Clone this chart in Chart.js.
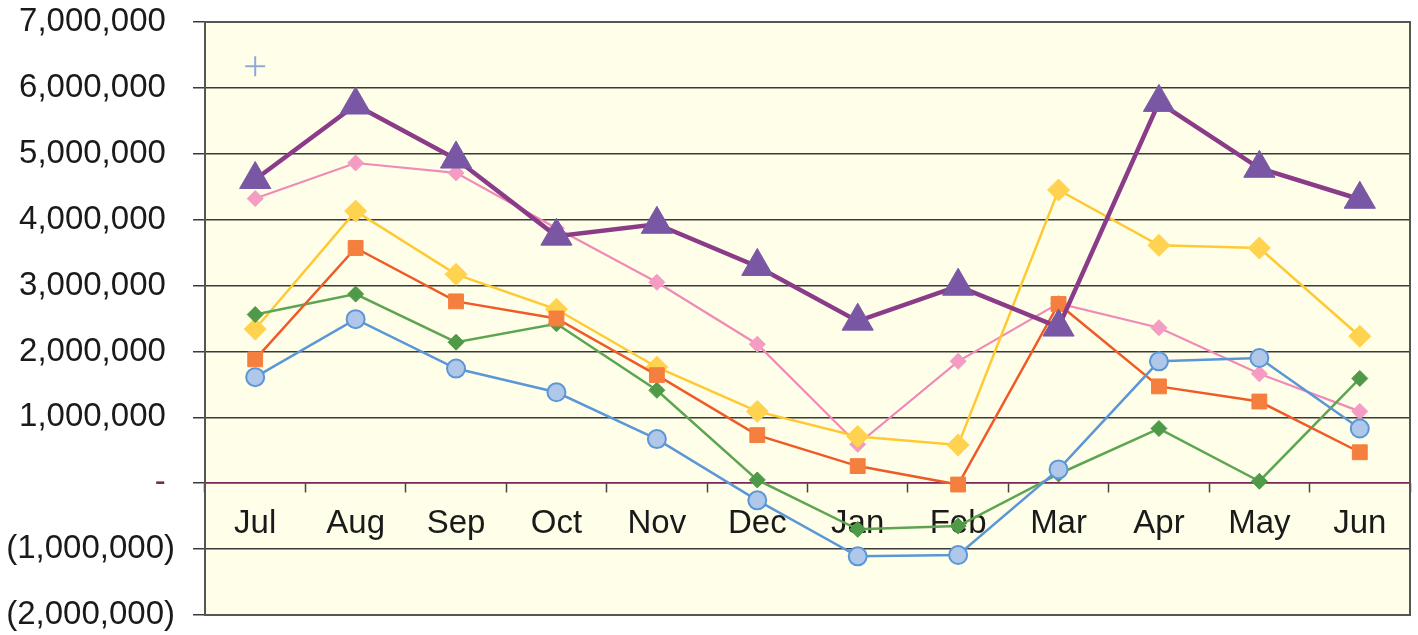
<!DOCTYPE html>
<html>
<head>
<meta charset="utf-8">
<script src="https://cdn.jsdelivr.net/npm/chart.js@4.4.1/dist/chart.umd.min.js"></script>
<style>
  html, body { margin: 0; background: #fff; overflow: hidden; }
  #wrap { width: 1418px; height: 635px; position: relative; }
  canvas { display: block; }
</style>
</head>
<body>
<div id="wrap"><canvas id="monthChart"></canvas></div>
<script>
const months = ['Jul', 'Aug', 'Sep', 'Oct', 'Nov', 'Dec', 'Jan', 'Feb', 'Mar', 'Apr', 'May', 'Jun'];

// values
const purpleVals = [4610000, 5740000, 4920000, 3750000, 3930000, 3290000, 2460000, 2990000, 2370000, 5780000, 4780000, 4310000];
const pinkVals   = [4320000, 4860000, 4710000, 3870000, 3050000, 2110000, 590000, 1850000, 2730000, 2360000, 1660000, 1090000];
const yellowVals = [2340000, 4130000, 3170000, 2640000, 1760000, 1090000, 710000, 580000, 4450000, 3610000, 3570000, 2230000];
const orangeVals = [1880000, 3570000, 2760000, 2500000, 1640000, 730000, 260000, -20000, 2720000, 1470000, 1240000, 470000];
const greenVals  = [2560000, 2870000, 2140000, 2420000, 1410000, 50000, -700000, -650000, 140000, 830000, 30000, 1590000];
const blueVals   = [1610000, 2490000, 1740000, 1380000, 670000, -260000, -1110000, -1090000, 210000, 1850000, 1900000, 830000];
const plusVals   = [6330000, null, null, null, null, null, null, null, null, null, null, null];

const yTicks = [-2000000, -1000000, 0, 1000000, 2000000, 3000000, 4000000, 5000000, 6000000, 7000000];

// accounting style: digits line up, the closing bracket hangs out to the right
function accounting(v) {
    if (v === 0) return '- ';
    const s = Math.abs(v).toLocaleString('en-US');
    return v < 0 ? '(' + s + ')' : s + ' ';
}

// light yellow plot area with a frame
const plotFrame = {
    id: 'plotFrame',
    beforeDraw(chart) {
        const { ctx, chartArea: a } = chart;
        ctx.save();
        ctx.fillStyle = '#FFFFE9';
        ctx.fillRect(a.left, a.top, a.right - a.left, a.bottom - a.top);
        ctx.restore();
    },
    beforeDatasetsDraw(chart) {
        const { ctx, chartArea: a } = chart;
        ctx.save();
        ctx.strokeStyle = '#555';
        ctx.lineWidth = 2;
        ctx.strokeRect(a.left, a.top, a.right - a.left, a.bottom - a.top);
        ctx.restore();
    }
};

function lineSet(label, data, color, fill, style, radius, width, order) {
    return {
        label: label,
        data: data,
        borderColor: color,
        borderWidth: width,
        pointStyle: style,
        pointRadius: radius,
        pointHoverRadius: radius,
        pointBackgroundColor: fill,
        pointBorderColor: style === 'circle' ? color : fill,
        pointBorderWidth: style === 'circle' ? 2 : 1,
        tension: 0,
        order: order
    };
}

// no extra room for overhanging labels, the frame is fixed by layout.padding
function noOverhang(scale) {
    scale.paddingTop = 0;
    scale.paddingBottom = 0;
    scale.paddingLeft = 0;
    scale.paddingRight = 0;
}

const labelFont = { family: 'Liberation Sans, Arial, sans-serif', size: 33 };

const ctx = document.getElementById('monthChart').getContext('2d');
new Chart(ctx, {
    type: 'line',
    data: {
        labels: months,
        datasets: [
            lineSet('Series 6', purpleVals, '#8A3C88', '#7957A4', 'triangle', 18, 4.5, 1),
            lineSet('Series 1', blueVals, '#5B97D6', '#AFC7E9', 'circle', 9, 2.5, 2),
            lineSet('Series 2', orangeVals, '#F05A28', '#F47F3E', 'rect', 10.5, 2.5, 3),
            lineSet('Series 3', greenVals, '#5EA552', '#4E9A48', 'rectRot', 8, 2.5, 4),
            lineSet('Series 4', yellowVals, '#FFC933', '#FFD24F', 'rectRot', 11, 2.5, 5),
            lineSet('Series 5', pinkVals, '#F08AB6', '#F49CC3', 'rectRot', 8, 2.2, 6),
            {
                label: 'Series 7',
                data: plusVals,
                showLine: false,
                pointStyle: 'cross',
                pointRadius: 10,
                pointBorderColor: '#8FA8D8',
                pointBorderWidth: 2,
                order: 0
            }
        ]
    },
    options: {
        responsive: true,
        maintainAspectRatio: false,
        animation: false,
        layout: { autoPadding: false, padding: { top: 22, right: 8, bottom: 20, left: 0 } },
        plugins: {
            legend: { display: false },
            tooltip: { enabled: false }
        },
        scales: {
            x: {
                position: { y: 0 },
                offset: true,
                afterFit: noOverhang,
                grid: {
                    offset: true,
                    drawOnChartArea: false,
                    drawTicks: true,
                    tickLength: 9,
                    color: '#444',
                    tickWidth: 1.5
                },
                border: { display: true, color: '#7A2A5A', width: 1.5 },
                ticks: {
                    font: labelFont,
                    color: '#1a1a1a',
                    padding: 12,
                    maxRotation: 0,
                    autoSkip: false
                }
            },
            y: {
                min: -2000000,
                max: 7000000,
                afterBuildTicks(scale) {
                    scale.ticks = yTicks.map(v => ({ value: v }));
                },
                afterFit(scale) {
                    scale.width = 205;
                    noOverhang(scale);
                },
                grid: {
                    color: '#3a3a3a',
                    lineWidth: 1.5,
                    tickLength: 12,
                    drawTicks: true
                },
                border: { display: true, color: '#333', width: 2 },
                ticks: {
                    callback: v => accounting(v),
                    font: labelFont,
                    color: c => (c.tick && c.tick.value === 0 ? '#7A2A5A' : '#1a1a1a'),
                    padding: 18
                }
            }
        }
    },
    plugins: [plotFrame]
});
</script>
</body>
</html>
